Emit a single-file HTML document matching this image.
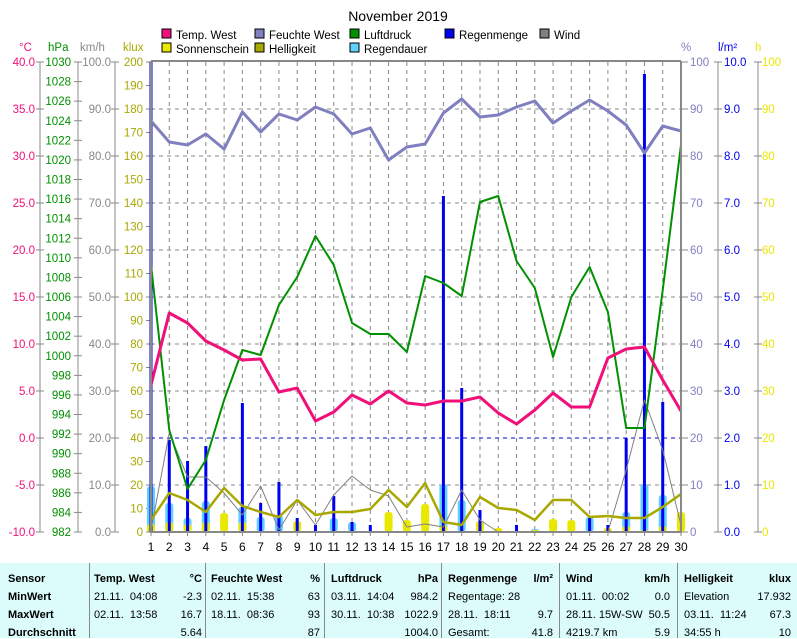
<!DOCTYPE html>
<html><head><meta charset="utf-8"><style>
body{margin:0;background:#fff;width:797px;height:638px;overflow:hidden;font-family:"Liberation Sans",sans-serif}
svg{position:absolute;left:0;top:0}
#tb{position:absolute;left:0;top:563px;width:797px;height:75px;background:#dcfcfc;font-size:11px;font-family:"Liberation Sans Narrow","Liberation Sans",sans-serif}
.c{position:absolute;white-space:nowrap}
.b{font-weight:bold}
.sep{position:absolute;top:0;width:1px;height:75px;background:#888}
</style></head><body>
<svg id="s" width="797" height="563" xmlns="http://www.w3.org/2000/svg" font-family="Liberation Sans, sans-serif" font-size="11.5"></svg>
<div id="tb"></div>
<script>
const s=document.getElementById('s');let h='';
const X=d=>151+(d-1)*18.276, T=532,Bt=62,H=470;
h+=`<text x="398" y="21" font-size="14" text-anchor="middle">November 2019</text>`;
for(let d=2;d<=29;d++)h+=`<line x1="${X(d)}" y1="62" x2="${X(d)}" y2="532" stroke="#888" stroke-dasharray="4,4"/>`;
for(let k=1;k<10;k++){let y=62+47*k;h+=`<line x1="151" y1="${y}" x2="681" y2="${y}" stroke="${k==8?'#0000e0':'#888'}" stroke-dasharray="4,4"/>`;}
let p=[],kl=[],pc=[],r=[],hh=[];
for(let i=0;i<=24;i++)p.push(1030-i*2);
for(let i=0;i<=20;i++)kl.push(200-i*10);
for(let i=0;i<=10;i++){pc.push(100-i*10);r.push((10-i).toFixed(1));hh.push(100-i*10);}
h+=`<line x1="40" y1="62" x2="40" y2="532" stroke="#888"/>`;
for(let i=0;i<=10;i++){let y=62+i*47;h+=`<line x1="36" y1="${y}" x2="44" y2="${y}" stroke="#888"/><text x="35" y="${y+4}" fill="#f0107a" text-anchor="end">${(40-i*5).toFixed(1)}</text>`;}
h+=`<line x1="78" y1="62" x2="78" y2="532" stroke="#888"/>`;
p.forEach((v,i)=>{let y=62+i*H/24;h+=`<line x1="74" y1="${y}" x2="82" y2="${y}" stroke="#888"/><text x="71" y="${y+4}" fill="#009000" text-anchor="end">${v}</text>`;});
h+=`<line x1="115" y1="62" x2="115" y2="532" stroke="#888"/>`;
for(let i=0;i<=10;i++){let y=62+i*47;h+=`<line x1="111" y1="${y}" x2="119" y2="${y}" stroke="#888"/><text x="111" y="${y+4}" fill="#888" text-anchor="end">${(100-i*10).toFixed(1)}</text>`;}
kl.forEach((v,i)=>{let y=62+i*23.5;h+=`<line x1="146" y1="${y}" x2="151" y2="${y}" stroke="#888"/><text x="143" y="${y+4}" fill="#a8a800" text-anchor="end">${v}</text>`;});
for(let i=0;i<=10;i++){let y=62+i*47;
 h+=`<line x1="681" y1="${y}" x2="688" y2="${y}" stroke="#888"/><text x="690" y="${y+4}" fill="#8080c0">${pc[i]}</text>`;
 h+=`<line x1="714" y1="${y}" x2="722" y2="${y}" stroke="#888"/><text x="724" y="${y+4}" fill="#0000f0">${r[i]}</text>`;
 h+=`<line x1="754" y1="${y}" x2="762" y2="${y}" stroke="#888"/><text x="762" y="${y+4}" fill="#e8e800">${hh[i]}</text>`;}
h+=`<line x1="718" y1="62" x2="718" y2="532" stroke="#888"/><line x1="758" y1="62" x2="758" y2="532" stroke="#888"/>`;
h+=`<text x="19" y="51" fill="#f0107a">°C</text><text x="48" y="51" fill="#009000">hPa</text><text x="80" y="51" fill="#888">km/h</text><text x="123" y="51" fill="#a8a800">klux</text><text x="681" y="51" fill="#8080c0">%</text><text x="718" y="51" fill="#0000f0">l/m²</text><text x="755" y="51" fill="#e8e800">h</text>`;
const lg=[[162,38,'#f0107a','Temp. West'],[255,38,'#8080c0','Feuchte West'],[350,38,'#009000','Luftdruck'],[445,38,'#0000f0','Regenmenge'],[540,38,'#808080','Wind'],[162,52,'#e8e800','Sonnenschein'],[255,52,'#a8a800','Helligkeit'],[350,52,'#60d0ff','Regendauer']];
lg.forEach(([x,y,cl,t])=>{h+=`<rect x="${x}" y="${y-9}" width="9" height="9" fill="${cl}" stroke="#000"/><text x="${x+14}" y="${y+1}">${t}</text>`;});
const dur={1:486,2:503,3:518,4:501,6:507,7:517,8:515,11:518,12:522,17:484,18:500,22:529,25:517,27:512,28:484,29:495};
for(const d in dur)h+=`<rect x="${X(+d)-4}" y="${dur[d]}" width="8" height="${532-dur[d]}" rx="3" fill="#60d0ff"/>`;
const sun={1:524,2:522,3:524,4:522,5:513,6:522,9:521,14:512,15:520,16:504,17:525,19:521,20:528,22:530,23:519,24:520,26:528,27:526,28:530,29:526,30:512};
for(const d in sun)h+=`<rect x="${X(+d)-4}" y="${sun[d]}" width="8" height="${532-sun[d]}" rx="3" fill="#e8e800"/>`;
const rain={1:62,2:440,3:461,4:446,6:403,7:503,8:482,9:518,10:525,11:496,12:522,13:525,17:196,18:388,19:510,21:525,25:518,26:525,27:438,28:74,29:402};
for(const d in rain)h+=`<rect x="${X(+d)-1.5}" y="${rain[d]}" width="3" height="${532-rain[d]}" fill="#0000f0"/>`;
const line=(a,cl,w)=>{h+=`<polyline fill="none" stroke="${cl}" stroke-width="${w}" stroke-linejoin="round" points="${a.map((y,i)=>X(i+1)+','+y).join(' ')}"/>`;};
line([530,433,477,477,493,515,486,530,500,525,495,476,490,496,527,524,527,490,520,532,532,532,532,532,532,532,470,400,450,525],'#808080',1);
line([520,493,500,512,488,506,512,517,500,515,512,512,509,490,507,483,522,525,497,508,510,520,500,500,517,516,518,518,507,494],'#a8a800',2.5);
line([265,430,489,460,400,350,355,305,277,236,265,323,334,334,352,276,283,296,202,196,261,288,357,297,267,312,428,428,290,145],'#009000',2);
line([385,313,323,341,350,360,359,392,388,421,412,395,404,391,403,405,401,401,397,413,424,410,393,407,407,358,349,347,380,411],'#f0107a',3);
line([121,142,145,134,149,112,132,114,120,107,114,134,128,160,147,144,113,99,117,115,107,101,123,111,100,111,125,153,126,131],'#8080c0',3);
h+=`<line x1="151" y1="61" x2="681" y2="61" stroke="#888" stroke-width="2"/><line x1="151" y1="61" x2="151" y2="533" stroke="#888" stroke-width="2"/><line x1="681" y1="61" x2="681" y2="533" stroke="#888" stroke-width="2"/><line x1="150" y1="532" x2="682" y2="532" stroke="#888" stroke-width="2"/>`;
for(let d=1;d<=30;d++)h+=`<line x1="${X(d)}" y1="532" x2="${X(d)}" y2="536" stroke="#888"/><text x="${X(d)}" y="551" text-anchor="middle" font-size="12">${d}</text>`;
s.innerHTML=h;
const tb=document.getElementById('tb');let t='';
[89,205,324,441,559,677].forEach(x=>t+=`<div class="sep" style="left:${x}px"></div>`);
const rows=[19,37,55,73];
const cell=(x,y,txt,cls,right)=>t+=`<div class="c ${cls||''}" style="${right?'right:'+(797-x):'left:'+x}px;top:${y-9}px">${txt}</div>`;
['Sensor','MinWert','MaxWert','Durchschnitt'].forEach((v,i)=>cell(8,rows[i],v,'b'));
const cols=[[94,202,'Temp. West','°C',[['21.11.&nbsp; 04:08','-2.3'],['02.11.&nbsp; 13:58','16.7'],['','5.64']]],
[211,320,'Feuchte West','%',[['02.11.&nbsp; 15:38','63'],['18.11.&nbsp; 08:36','93'],['','87']]],
[331,438,'Luftdruck','hPa',[['03.11.&nbsp; 14:04','984.2'],['30.11.&nbsp; 10:38','1022.9'],['','1004.0']]],
[448,553,'Regenmenge','l/m²',[['Regentage: 28',''],['28.11.&nbsp; 18:11','9.7'],['Gesamt:','41.8']]],
[566,670,'Wind','km/h',[['01.11.&nbsp; 00:02','0.0'],['28.11.&nbsp;15W-SW','50.5'],['4219.7 km','5.9']]],
[684,791,'Helligkeit','klux',[['Elevation','17.932'],['03.11.&nbsp; 11:24','67.3'],['34:55 h','10']]]];
cols.forEach(([x,xr,n,u,v])=>{cell(x,rows[0],n,'b');cell(xr,rows[0],u,'b',1);v.forEach((a,i)=>{cell(x,rows[i+1],a[0]);cell(xr,rows[i+1],a[1],'',1);});});
tb.innerHTML=t;
</script>
</body></html>
